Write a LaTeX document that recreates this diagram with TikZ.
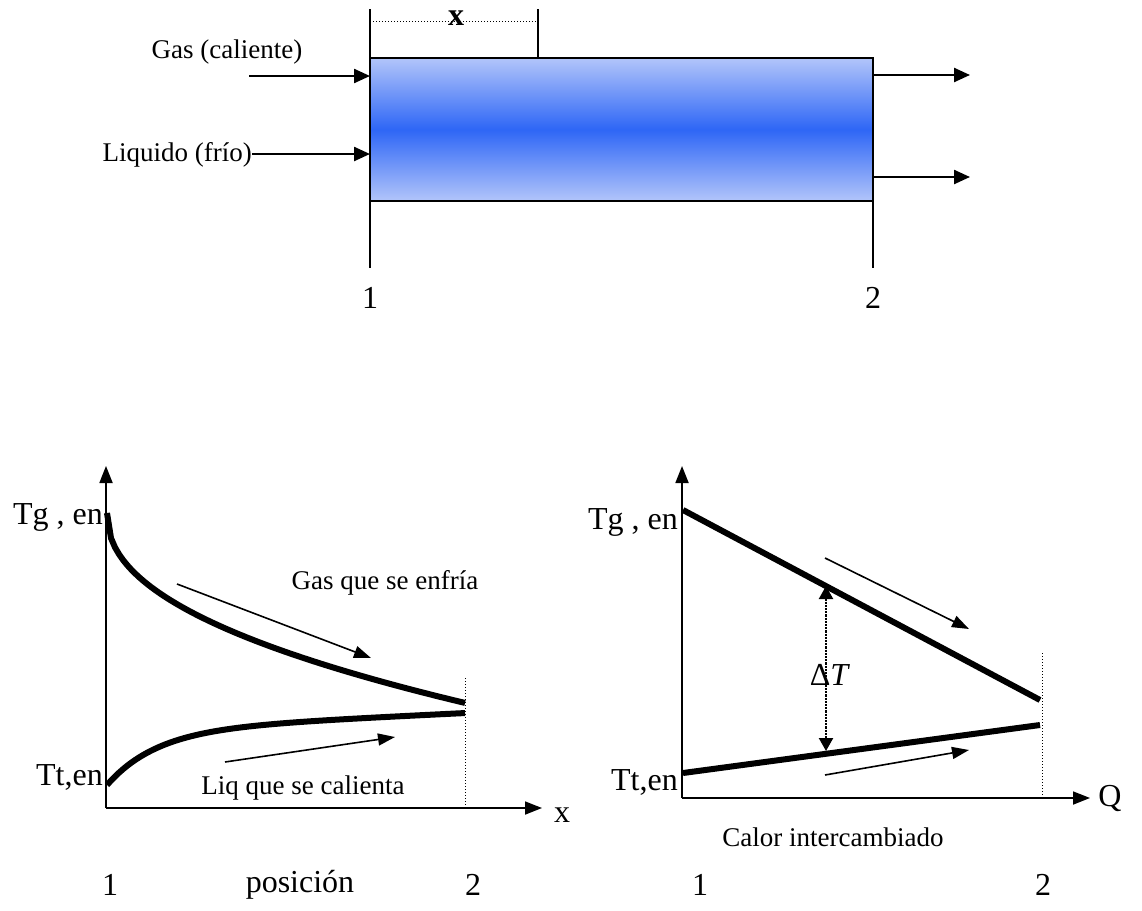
\documentclass[tikz,border=0pt]{standalone}
\usepackage{fontspec}
\setmainfont{Liberation Serif}
\usepackage{xcolor}
\usetikzlibrary{positioning, arrows.meta}

\definecolor{tubeedge}{HTML}{B2C5FA}
\definecolor{tubecore}{HTML}{2E66F6}

\begin{document}
\begin{tikzpicture}[
    x=1pt, y=-1pt,
    lbl/.style={font=\fontsize{27}{32}\selectfont, inner sep=0pt},
    big/.style={font=\fontsize{32}{38}\selectfont, inner sep=0pt},
    tube/.style={draw, line width=1.8pt, top color=tubeedge, bottom color=tubeedge, middle color=tubecore,
                 minimum width=503pt, minimum height=143pt, inner sep=0pt, outer sep=0pt},
    flow/.style={-{Triangle[length=16pt, width=14pt]}, line width=2.4pt},
    axis/.style={-{Triangle[length=17pt, width=13pt]}, line width=1.8pt},
    dir/.style={-{Triangle[length=17pt, width=12pt]}, line width=1.6pt},
    curve/.style={line width=6pt},
    guide/.style={dotted, line width=1pt}
  ]
    \useasboundingbox (0,0) rectangle (1142,910);

    % exchanger
    \node[tube] (tube) at (621.5,129.5) {};
    \draw[line width=1.8pt] (370,9) -- (370,268);
    \draw[line width=1.8pt] (873,58) -- (873,268);
    \draw[line width=1.8pt] (538,9) -- (538,58);
    \draw[guide] (370,21) -- (538,21);
    \node[big, font=\fontsize{32}{38}\selectfont\bfseries] (xpos) at (456,18) {x};

    \node[lbl] (gas) at (227,52) {Gas (caliente)};
    \node[lbl, anchor=east] (liq) at (252,155) {Liquido (frío)};
    \coordinate (gasin) at (249,76);
    \coordinate (liqin) at (252,154);
    \coordinate (gasout) at (970,75);
    \coordinate (liqout) at (970,177);
    \draw[flow] (gasin) -- (tube.west |- gasin);
    \draw[flow] (liqin) -- (tube.west |- liqin);
    \draw[flow] (tube.east |- gasout) -- (gasout);
    \draw[flow] (tube.east |- liqout) -- (liqout);

    \node[big] (top1) at (370,298) {1};
    \node[big] (top2) at (873,298) {2};

    % T vs posicion
    \coordinate (oL) at (106,808);
    \coordinate (yL) at (106,466);
    \coordinate (xL) at (542,808);
    \draw[axis] (oL) -- (yL);
    \draw[axis] (oL) -- (xL);
    \node[big] (xlbl) at (562,815) {x};
    \node[big, anchor=east] (tgL) at (103,517) {Tg , en};
    \node[big, anchor=east] (ttL) at (103,777) {Tt,en};

    \draw[curve] plot[domain=0:358, samples=90] ({107+\x}, {513+13.47*(\x)^0.45});
    \draw[curve] plot[domain=0:358, samples=90] ({107+\x}, {785-55*(1-exp(-\x/50))-17*\x/358});
    \draw[guide] (465,678) -- (465,808);

    \coordinate (gL1) at (177,584);
    \coordinate (gL2) at (371,658);
    \coordinate (lL1) at (225,762);
    \coordinate (lL2) at (395,737);
    \draw[dir] (gL1) -- (gL2);
    \draw[dir] (lL1) -- (lL2);
    \node[lbl] (gasL) at (385,583) {Gas que se enfría};
    \node[lbl] (liqL) at (303,788) {Liq que se calienta};

    \node[big] (b1) at (110,885) {1};
    \node[big] (bpos) at (300,885) {posición};
    \node[big] (b2) at (473,885) {2};

    % T vs Q
    \coordinate (oR) at (682,798);
    \coordinate (yR) at (682,466);
    \coordinate (xR) at (1090,798);
    \draw[axis] (oR) -- (yR);
    \draw[axis] (oR) -- (xR);
    \node[big] (qlbl) at (1110,798) {Q};
    \node[big, anchor=east] (tgR) at (678,522) {Tg , en};
    \node[big, anchor=east] (ttR) at (678,782) {Tt,en};

    \coordinate (gR1) at (683,510);
    \coordinate (gR2) at (1040,700);
    \coordinate (lR1) at (683,773);
    \coordinate (lR2) at (1040,725);
    \draw[curve] (gR1) -- (gR2);
    \draw[curve] (lR1) -- (lR2);
    \draw[guide] (1042,653) -- (1042,798);

    \coordinate (dtTop) at (826,586);
    \coordinate (dtBot) at (826,751);
    \draw[densely dotted, line width=2.2pt, {Triangle[length=13pt, width=14pt]}-{Triangle[length=13pt, width=14pt]}] (dtTop) -- (dtBot);
    \node[big] (dt) at (830,675) {Δ\textit{T}};

    \coordinate (gR3) at (825,558);
    \coordinate (gR4) at (969,629);
    \coordinate (lR3) at (825,775);
    \coordinate (lR4) at (969,750);
    \draw[dir] (gR3) -- (gR4);
    \draw[dir] (lR3) -- (lR4);

    \node[lbl] (calor) at (833,837) {Calor intercambiado};
    \node[big] (c1) at (700,885) {1};
    \node[big] (c2) at (1043,885) {2};
  \end{tikzpicture}
\end{document}
